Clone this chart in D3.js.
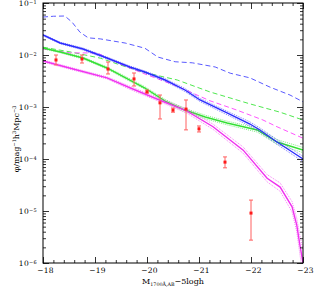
<!DOCTYPE html>
<html>
<head>
<meta charset="utf-8">
<script src="https://cdn.jsdelivr.net/npm/d3@7"></script>
<style>
  body { margin: 0; background: #fff; }
  text { font-family: "DejaVu Serif", "Liberation Serif", serif; fill: #000; }
</style>
</head>
<body>
<div id="chart"></div>
<script>
// Values: magnitudes and log10(phi)
const blueDashM = [-18, -18.2, -18.42, -18.56, -18.71, -18.87, -19.1, -19.58, -19.96, -20.21, -20.54, -20.87, -21.31, -21.6, -21.98, -22.37, -22.75, -23];
const blueDashLog = [-1.27, -1.255, -1.25, -1.37, -1.56, -1.67, -1.69, -1.77, -1.87, -2.04, -2.13, -2.15, -2.23, -2.35, -2.44, -2.62, -2.77, -2.9];

const blueM = [-18, -18.33, -18.77, -19.23, -19.67, -19.96, -20.35, -20.73, -21.02, -21.54, -21.98, -22.17, -22.5, -23];
const blueLog = [-1.615, -1.769, -1.885, -2.058, -2.231, -2.327, -2.481, -2.673, -2.865, -3.115, -3.327, -3.442, -3.673, -4.0];
const blueErr = [0.015, 0.015, 0.02, 0.02, 0.02, 0.02, 0.025, 0.03, 0.03, 0.035, 0.04, 0.04, 0.045, 0.05];

const greenM = [-18, -18.33, -18.77, -19.23, -19.67, -19.96, -20.35, -20.73, -21.12, -21.54, -22.12, -22.5, -23];
const greenLog = [-1.865, -1.942, -2.058, -2.25, -2.481, -2.635, -2.885, -3.058, -3.192, -3.308, -3.442, -3.673, -3.827];
const greenErr = [0.015, 0.015, 0.02, 0.02, 0.025, 0.025, 0.03, 0.03, 0.035, 0.035, 0.04, 0.045, 0.05];

const greenDashM = [-18, -18.52, -19.1, -19.48, -19.92, -20.58, -21.21, -21.98, -22.56, -23];
const greenDashLog = [-1.85, -1.94, -2.06, -2.19, -2.33, -2.48, -2.71, -2.94, -3.1, -3.25];

const pinkDashM = [-18, -18.52, -19.04, -19.48, -19.92, -20.58, -21.21, -21.73, -22.23, -22.5, -23];
const pinkDashLog = [-1.885, -1.96, -1.96, -2.17, -2.35, -2.6, -2.88, -3.06, -3.25, -3.38, -3.6];

const magM = [-18, -18.58, -19.23, -19.67, -20.25, -20.77, -21.27, -21.85, -22.31, -22.56, -22.79, -22.88, -22.94, -23];
const magLog = [-2.115, -2.27, -2.44, -2.63, -2.87, -3.08, -3.38, -3.83, -4.37, -4.54, -4.92, -5.27, -5.65, -6.0];
const magErr = [0.02, 0.02, 0.02, 0.03, 0.03, 0.04, 0.05, 0.06, 0.07, 0.08, 0.1, 0.13, 0.18, 0.25];

// observed points with error bars
const obsM = [-18.25, -18.75, -19.25, -19.75, -20.0, -20.25, -20.5, -20.75, -21.0, -21.5, -22.0];
const obsLog = [-2.096, -2.077, -2.27, -2.46, -2.71, -2.92, -3.06, -3.04, -3.42, -4.06, -5.04];
const obsHi = [-2.0, -2.0, -2.135, -2.346, -2.673, -2.77, -3.02, -2.865, -3.365, -3.96, -4.79];
const obsLo = [-2.19, -2.154, -2.365, -2.596, -2.731, -3.23, -3.1, -3.44, -3.48, -4.17, -5.56];

const xMajor = [-18, -19, -20, -21, -22, -23];
const yMajor = [1e-6, 1e-5, 1e-4, 1e-3, 1e-2, 1e-1];

const W = 314, H = 291;
const pLeft = 43, pRight = 303, pTop = 3, pBottom = 263;

const svg = d3.select("#chart").append("svg")
  .attr("width", W)
  .attr("height", H)
  .style("background", "#fff");

const x = d3.scaleLinear().domain([-18, -23]).range([pLeft, pRight]);
const y = d3.scaleLog().domain([1e-6, 1e-1]).range([pBottom, pTop]);

svg.append("defs").append("clipPath").attr("id", "plotclip")
  .append("rect")
  .attr("x", pLeft).attr("y", pTop)
  .attr("width", pRight - pLeft).attr("height", pBottom - pTop);

const plot = svg.append("g").attr("clip-path", "url(#plotclip)");

const line = d3.line()
  .x(d => x(d[0]))
  .y(d => y(Math.pow(10, d[1])));

function pts(ms, logs, off) {
  return ms.map((m, i) => [m, logs[i] + (off ? off[i] : 0)]);
}
function neg(a) { return a.map(v => -v); }

// dashed model curves
const dashed = [
  [blueDashM, blueDashLog, "#5a5aff"],
  [greenDashM, greenDashLog, "#4fe84f"],
  [pinkDashM, pinkDashLog, "#ff55ff"]
];
dashed.forEach(([ms, ls, col]) => {
  plot.append("path")
    .attr("d", line(pts(ms, ls)))
    .attr("fill", "none")
    .attr("stroke", col)
    .attr("stroke-width", 1)
    .attr("stroke-dasharray", "5,3");
});

// solid curves with dotted bands
const solid = [
  [greenM, greenLog, greenErr, "#33e033"],
  [blueM, blueLog, blueErr, "#2b2bff"],
  [magM, magLog, magErr, "#f030f0"]
];
solid.forEach(([ms, ls, es, col]) => {
  [es, neg(es)].forEach(off => {
    plot.append("path")
      .attr("d", line(pts(ms, ls, off)))
      .attr("fill", "none")
      .attr("stroke", col)
      .attr("stroke-opacity", 0.6)
      .attr("stroke-width", 1)
      .attr("stroke-dasharray", "1,1");
  });
  plot.append("path")
    .attr("d", line(pts(ms, ls)))
    .attr("fill", "none")
    .attr("stroke", col)
    .attr("stroke-width", 1.4);
});

// observations
const obs = obsM.map((m, i) => ({ m: m, v: obsLog[i], hi: obsHi[i], lo: obsLo[i] }));
const og = plot.append("g").selectAll("g").data(obs).enter().append("g");
og.append("line")
  .attr("x1", d => x(d.m)).attr("x2", d => x(d.m))
  .attr("y1", d => y(Math.pow(10, d.hi))).attr("y2", d => y(Math.pow(10, d.lo)))
  .attr("stroke", "#ff6060").attr("stroke-width", 1);
["hi", "lo"].forEach(k => {
  og.append("line")
    .attr("x1", d => x(d.m) - 2).attr("x2", d => x(d.m) + 2)
    .attr("y1", d => y(Math.pow(10, d[k]))).attr("y2", d => y(Math.pow(10, d[k])))
    .attr("stroke", "#ff6060").attr("stroke-width", 1);
});
og.append("rect")
  .attr("x", d => x(d.m) - 1.5).attr("y", d => y(Math.pow(10, d.v)) - 1.5)
  .attr("width", 3).attr("height", 3)
  .attr("fill", "#ff1a1a");

// axes, ticks inward on all four sides
const xMinor = d3.range(-18, -23.01, -0.2).filter(v => Math.abs(v - Math.round(v)) > 1e-6);
const yMinor = [];
for (let k = -6; k < -1; k++) for (let m = 2; m <= 9; m++) yMinor.push(m * Math.pow(10, k));

function styleAxis(g) {
  g.select(".domain").remove();
  g.selectAll(".tick line").attr("stroke", "#000").attr("stroke-width", 0.8);
  g.selectAll(".tick text").attr("font-family", "DejaVu Serif").attr("font-size", 7.5)
    .attr("letter-spacing", 0.3);
}

// bottom
svg.append("g").attr("transform", `translate(0,${pBottom})`)
  .call(d3.axisBottom(x).tickValues(xMinor).tickSize(-3).tickFormat(""))
  .call(styleAxis);
svg.append("g").attr("transform", `translate(2,${pBottom})`)
  .call(d3.axisBottom(x).tickValues(xMajor).tickSize(0).tickPadding(5)
    .tickFormat(d => "\u2212" + Math.abs(d)))
  .call(styleAxis);
svg.append("g").attr("transform", `translate(0,${pBottom})`)
  .call(d3.axisBottom(x).tickValues(xMajor).tickSize(-6).tickFormat(""))
  .call(styleAxis);
// top
svg.append("g").attr("transform", `translate(0,${pTop})`)
  .call(d3.axisTop(x).tickValues(xMinor).tickSize(-3).tickFormat(""))
  .call(styleAxis);
svg.append("g").attr("transform", `translate(0,${pTop})`)
  .call(d3.axisTop(x).tickValues(xMajor).tickSize(-6).tickFormat(""))
  .call(styleAxis);
// left
svg.append("g").attr("transform", `translate(${pLeft},0)`)
  .call(d3.axisLeft(y).tickValues(yMinor).tickSize(-3).tickFormat(""))
  .call(styleAxis);
const yl = svg.append("g").attr("transform", `translate(${pLeft},0)`)
  .call(d3.axisLeft(y).tickValues(yMajor).tickSize(-6).tickPadding(6).tickFormat(""))
  .call(styleAxis);
yl.selectAll(".tick text").each(function (d) {
  const t = d3.select(this);
  t.append("tspan").text("10");
  t.append("tspan").attr("dy", "-0.45em").attr("font-size", 5)
    .text("\u2212" + Math.round(-Math.log10(d)));
});
// right
svg.append("g").attr("transform", `translate(${pRight},0)`)
  .call(d3.axisRight(y).tickValues(yMinor).tickSize(-3).tickFormat(""))
  .call(styleAxis);
svg.append("g").attr("transform", `translate(${pRight},0)`)
  .call(d3.axisRight(y).tickValues(yMajor).tickSize(-6).tickFormat(""))
  .call(styleAxis);

// frame
svg.append("rect")
  .attr("x", pLeft).attr("y", pTop)
  .attr("width", pRight - pLeft).attr("height", pBottom - pTop)
  .attr("fill", "none").attr("stroke", "#000").attr("stroke-width", 1);

// axis titles
const xt = svg.append("text")
  .attr("x", (pLeft + pRight) / 2).attr("y", 284)
  .attr("text-anchor", "middle").attr("font-size", 8);
xt.append("tspan").text("M");
xt.append("tspan").attr("dy", 2).attr("font-size", 4.8).text("1700\u00c5,AB");
xt.append("tspan").attr("dy", -2).text("\u22125logh");

const yt = svg.append("text")
  .attr("transform", `translate(19,${(pTop + pBottom) / 2 + 6}) rotate(-90)`)
  .attr("text-anchor", "middle").attr("font-size", 8);
yt.append("tspan").text("\u03c6/mag");
yt.append("tspan").attr("dy", -3).attr("font-size", 5).text("\u22121");
yt.append("tspan").attr("dy", 3).text("h");
yt.append("tspan").attr("dy", -3).attr("font-size", 5).text("3");
yt.append("tspan").attr("dy", 3).text("Mpc");
yt.append("tspan").attr("dy", -3).attr("font-size", 5).text("\u22123");
</script>
</body>
</html>
